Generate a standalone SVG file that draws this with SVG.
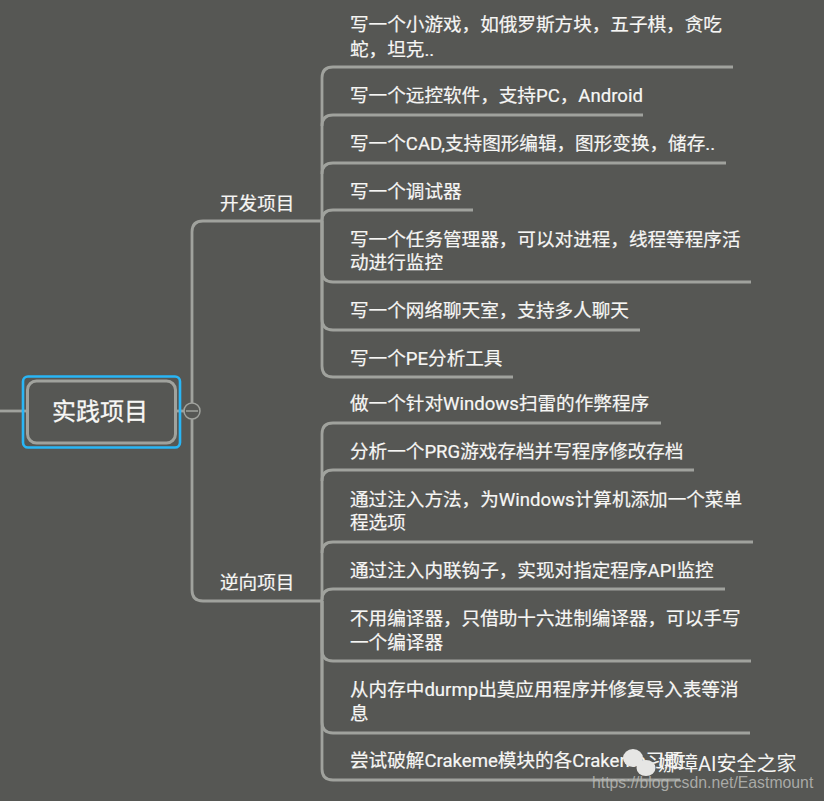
<svg xmlns="http://www.w3.org/2000/svg" width="824" height="801" viewBox="0 0 824 801">
<style>
.c{fill:none;stroke:#a0a29d;stroke-width:2.800}
.t{font-family:Roboto,"Noto Sans CJK SC",sans-serif;font-size:18.6px;fill:#f6f6f4;stroke:#f6f6f4;stroke-width:.2}
</style>
<rect width="824" height="801" fill="#565754"/>
<g id="connectors">
<path class="c" d="M0 411H27"/>
<path class="c" d="M176 411H185"/>
<path class="c" d="M192 403V232Q192 221 203 221H322"/>
<path class="c" d="M192 419V590Q192 601 203 601H322"/>
<path class="c" d="M322 221V78Q322 67 333 67H733"/>
<path class="c" d="M322 126Q322 115 333 115H643"/>
<path class="c" d="M322 174Q322 163 333 163H726"/>
<path class="c" d="M322 221Q322 210 333 210H473"/>
<path class="c" d="M322 221V271Q322 282 333 282H751"/>
<path class="c" d="M322 221V319Q322 330 333 330H640"/>
<path class="c" d="M322 221V366Q322 377 333 377H513"/>
<path class="c" d="M322 601V434Q322 423 333 423H661"/>
<path class="c" d="M322 481Q322 470 333 470H694"/>
<path class="c" d="M322 553Q322 542 333 542H753"/>
<path class="c" d="M322 600Q322 589 333 589H725"/>
<path class="c" d="M322 601V650Q322 661 333 661H751"/>
<path class="c" d="M322 601V722Q322 733 333 733H750"/>
<path class="c" d="M322 601V769Q322 780 333 780H680"/>
</g>
<g id="root">
<rect x="23" y="376.500" width="157" height="71" rx="5" fill="none" stroke="#29b6f6" stroke-width="2.600"/>
<rect x="27.500" y="381" width="148" height="62" rx="9" fill="#565754" stroke="#a0a29d" stroke-width="3"/>
<text x="100" y="420" text-anchor="middle" style="font-family:'Noto Sans CJK SC',sans-serif;font-size:24px;fill:#f7f7f5;stroke:#f7f7f5;stroke-width:.3">实践项目</text>
</g>
<g id="collapse">
<circle cx="192" cy="411" r="8" fill="#565754" stroke="#a0a29d" stroke-width="1.500"/>
<path d="M186 411H198" stroke="#a0a29d" stroke-width="1.500"/>
</g>
<g id="branch-dev"><text class="t" x="220" y="210">开发项目</text></g>
<g id="branch-rev"><text class="t" x="220" y="589">逆向项目</text></g>
<g id="leaf-1"><text class="t" x="350" y="31">写一个小游戏，如俄罗斯方块，五子棋，贪吃</text><text class="t" x="350" y="56">蛇，坦克..</text></g>
<g id="leaf-2"><text class="t" x="350" y="102">写一个远控软件，支持PC，Android</text></g>
<g id="leaf-3"><text class="t" x="350" y="150">写一个CAD,支持图形编辑，图形变换，储存..</text></g>
<g id="leaf-4"><text class="t" x="350" y="198">写一个调试器</text></g>
<g id="leaf-5"><text class="t" x="350" y="246">写一个任务管理器，可以对进程，线程等程序活</text><text class="t" x="350" y="269">动进行监控</text></g>
<g id="leaf-6"><text class="t" x="350" y="317">写一个网络聊天室，支持多人聊天</text></g>
<g id="leaf-7"><text class="t" x="350" y="365">写一个PE分析工具</text></g>
<g id="leaf-8"><text class="t" x="350" y="410">做一个针对Windows扫雷的作弊程序</text></g>
<g id="leaf-9"><text class="t" x="350" y="458">分析一个PRG游戏存档并写程序修改存档</text></g>
<g id="leaf-10"><text class="t" x="350" y="506">通过注入方法，为Windows计算机添加一个菜单</text><text class="t" x="350" y="529">程选项</text></g>
<g id="leaf-11"><text class="t" x="350" y="577">通过注入内联钩子，实现对指定程序API监控</text></g>
<g id="leaf-12"><text class="t" x="350" y="625">不用编译器，只借助十六进制编译器，可以手写</text><text class="t" x="350" y="649">一个编译器</text></g>
<g id="leaf-13"><text class="t" x="350" y="696">从内存中durmp出莫应用程序并修复导入表等消</text><text class="t" x="350" y="720">息</text></g>
<g id="leaf-14"><text class="t" x="350" y="767">尝试破解Crakeme模块的各Crakeme习题</text></g>
<g id="watermark">
<ellipse cx="633" cy="758" rx="10" ry="9" fill="#e6e6e4"/>
<ellipse cx="646" cy="768" rx="9.500" ry="8" fill="#e6e6e4"/>
<text x="658" y="771" style="font-family:Roboto,'Noto Sans CJK SC',sans-serif;font-size:20px;fill:#f4f4f2">娜璋AI安全之家</text>
<text x="592" y="788" style="font-family:'Liberation Sans',sans-serif;font-size:15.800px;fill:#b9bab7;fill-opacity:.85">https://blog.csdn.net/Eastmount</text>
</g>
</svg>
